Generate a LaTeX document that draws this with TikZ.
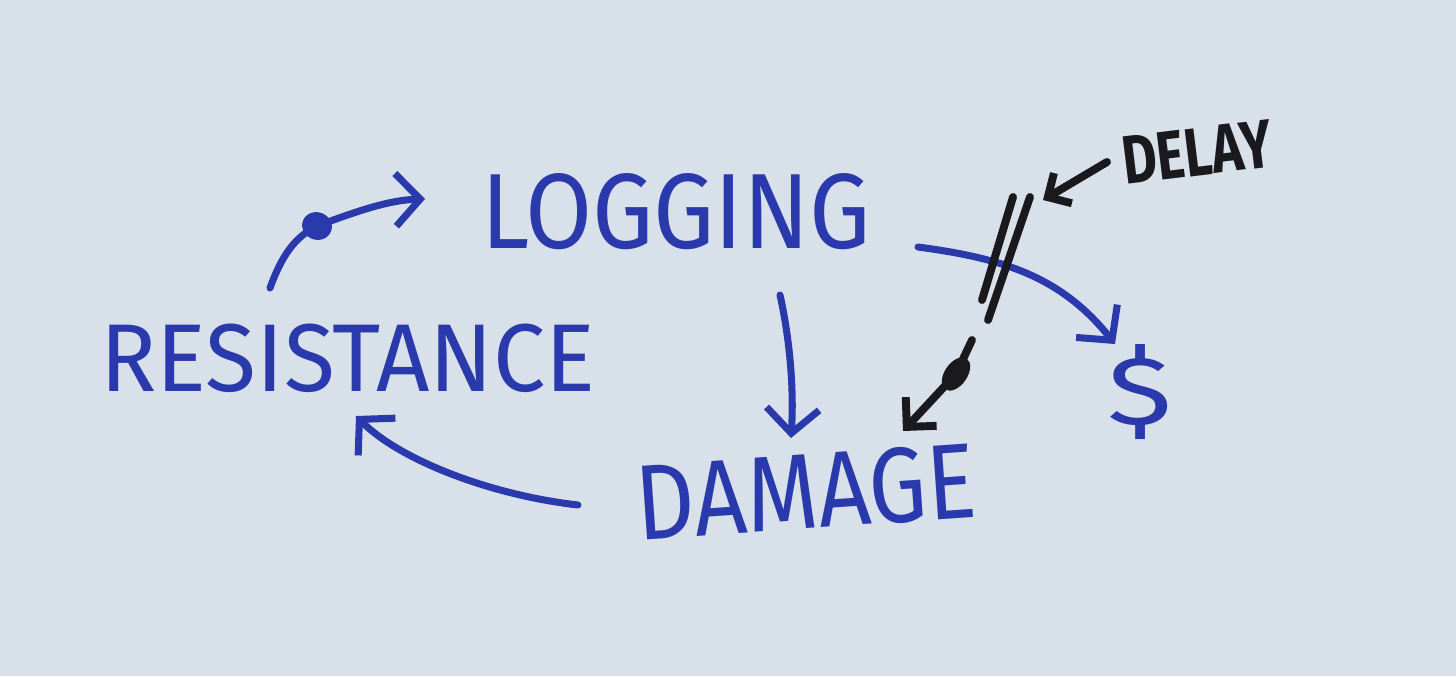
\documentclass[tikz,border=0pt]{standalone}
\usepackage{fontspec}
\usepackage{graphicx}
\setmainfont{Fira Sans}
\usetikzlibrary{arrows.meta,shapes.geometric}
\definecolor{paper}{RGB}{216,224,233}
\definecolor{ink}{RGB}{42,58,172}
\definecolor{blk}{RGB}{25,25,30}
\tikzset{
  word/.style={inner sep=0pt, text=ink},
  pen/.style={draw=ink, line width=4pt, line cap=round, line join=round},
  bpen/.style={draw=blk, line width=4.5pt, line cap=round, line join=round},
  barb/.style={-{Straight Barb[length=14pt,width=30pt,line width=4pt]}},
  blob/.style={ellipse, inner sep=0pt, minimum width=0.6cm, minimum height=0.55cm},
}
\begin{document}
\begin{tikzpicture}[x=0.02cm,y=-0.02cm]
\fill[paper] (0,0) rectangle (1456,676);
\useasboundingbox (0,0) rectangle (1456,676);
% words
\node[word] (logging) at (676,212) {\resizebox{7.8cm}{1.5cm}{LOGGING}};
\node[word] (resistance) at (348,358) {\resizebox{9.9cm}{1.35cm}{RESISTANCE}};
\node[word, rotate=4] (damage) at (806,492) {\resizebox{6.8cm}{1.5cm}{DAMAGE}};
\node[word] (dollar) at (1140,392) {\resizebox{1.3cm}{1.6cm}{\$}};
\node[word, text=blk, rotate=7] (delay) at (1197,152) {\resizebox{3.0cm}{0.95cm}{\bfseries DELAY}};
% connector end points
\coordinate (r1) at (270,288);
\coordinate (r2) at (425,199);
\coordinate (l1) at (780,295);
\coordinate (l2) at (791,438);
\coordinate (d1) at (578,505);
\coordinate (d2) at (356,416);
\coordinate (m1) at (918,247);
\coordinate (m2) at (1115,344);
\coordinate (k1) at (1107,162);
\coordinate (k2) at (1043,200);
\coordinate (s1) at (1013,197);
\coordinate (s2) at (982,300);
\coordinate (t1) at (1030,197);
\coordinate (t2) at (988,320);
\coordinate (b1) at (972,340);
\coordinate (b2) at (903,431);
% resistance -> logging
\node[blob, fill=ink, rotate=-20] (dot1) at (317,226) {};
\draw[pen] (r1) .. controls (282,255) and (295,237) .. (dot1.center);
\draw[pen, barb] (dot1.center) .. controls (360,210) and (390,200) .. (r2);
% logging -> damage
\draw[pen, barb] (l1) .. controls (790,340) and (794,390) .. (l2);
% damage -> resistance
\draw[pen, barb] (d1) .. controls (490,495) and (400,460) .. (d2);
% logging -> $
\draw[pen, barb] (m1) .. controls (1000,258) and (1060,275) .. (m2);
% delay marks
\draw[bpen] (s1) -- (s2);
\draw[bpen] (t1) -- (t2);
\draw[bpen, -{Straight Barb[length=10pt,width=20pt,line width=4.5pt]}] (k1) -- (k2);
% black arrow to damage
\node[blob, fill=blk, minimum width=0.45cm, minimum height=0.75cm, rotate=-35] (dot2) at (956,374) {};
\draw[bpen, -{Straight Barb[length=12pt,width=24pt,line width=4.5pt]}] (b1) -- (dot2.center) -- (b2);
\end{tikzpicture}
\end{document}
